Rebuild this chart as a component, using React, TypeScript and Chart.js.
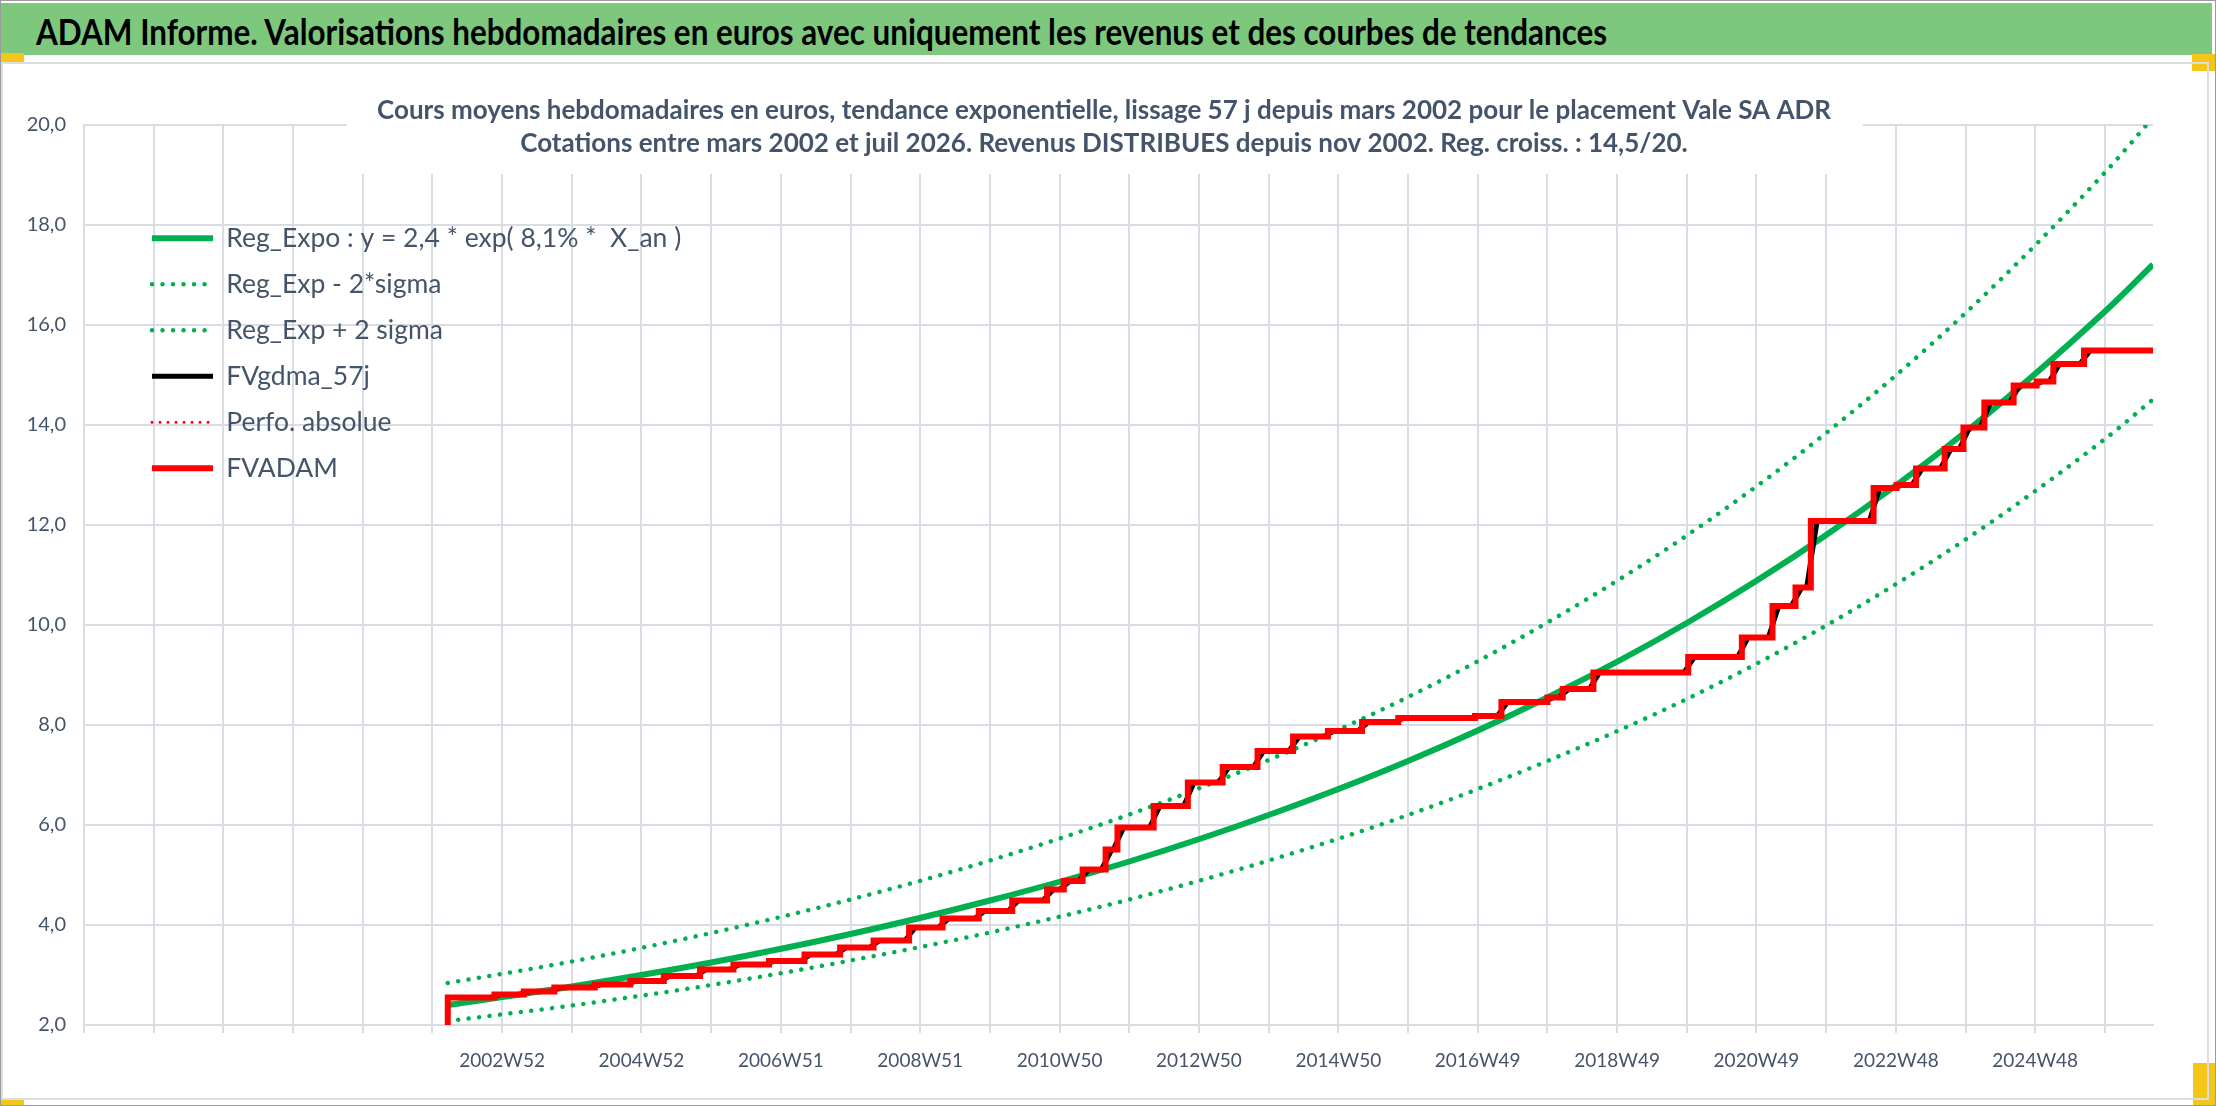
import { useEffect, useRef } from "react";
import { Chart, registerables } from "chart.js";

Chart.register(...registerables);

const FONT = "Lato, 'Open Sans', sans-serif";
const TEXT = "#44546A";
const GRID = "#D9DDE3";
const GREEN = "#00B050";
const RED = "#FF0000";

const headerText =
  "ADAM Informe. Valorisations hebdomadaires en euros avec uniquement les revenus et des courbes de tendances";
const titleLines = [
  "Cours moyens hebdomadaires en euros, tendance exponentielle, lissage 57 j depuis mars 2002 pour le placement Vale SA ADR",
  "Cotations entre mars 2002 et juil 2026. Revenus DISTRIBUES depuis nov 2002. Reg. croiss. : 14,5/20.",
];

// x axis: one grid line every 52 weeks, 1997 = left edge of the plot
const xMin = 1997;
const xMax = 2026.69;
const labelYears = [2003, 2005, 2007, 2009, 2011, 2013, 2015, 2017, 2019, 2021, 2023, 2025];
const weekLabels = [
  "2002W52", "2004W52", "2006W51", "2008W51", "2010W50", "2012W50",
  "2014W50", "2016W49", "2018W49", "2020W49", "2022W48", "2024W48",
];

// trend curves
const trendYears = [2002.22, 2004, 2006, 2008, 2010, 2012, 2014, 2016, 2018, 2020, 2022, 2024, 2026, 2026.69];
const regExpo = [2.4, 2.77, 3.25, 3.82, 4.49, 5.27, 6.2, 7.28, 8.55, 10.04, 11.8, 13.86, 16.27, 17.21];
const regLow = [2.08, 2.39, 2.8, 3.29, 3.85, 4.51, 5.29, 6.2, 7.28, 8.52, 9.99, 11.71, 13.72, 14.51];
const regHigh = [2.84, 3.27, 3.84, 4.51, 5.29, 6.21, 7.3, 8.56, 10.05, 11.79, 13.84, 16.24, 19.05, 20.15];

// FVADAM: new value at each step
const stepYears = [
  2002.22, 2002.22, 2002.89, 2003.31, 2003.75, 2004.33, 2004.84, 2005.32, 2005.84, 2006.32,
  2006.83, 2007.34, 2007.85, 2008.33, 2008.84, 2009.32, 2009.84, 2010.32, 2010.82, 2011.06,
  2011.33, 2011.66, 2011.83, 2012.35, 2012.84, 2013.34, 2013.84, 2014.35, 2014.85, 2015.34,
  2015.86, 2016.96, 2017.34, 2018.0, 2018.22, 2018.66, 2020.02, 2020.79, 2021.23, 2021.56,
  2021.78, 2022.68, 2023.01, 2023.29, 2023.7, 2023.97, 2024.27, 2024.69, 2025.02, 2025.26,
  2025.7, 2026.69,
];
const stepValues = [
  2.0, 2.55, 2.61, 2.67, 2.75, 2.81, 2.88, 2.98, 3.11, 3.21,
  3.28, 3.41, 3.55, 3.69, 3.95, 4.13, 4.28, 4.49, 4.71, 4.88,
  5.11, 5.51, 5.95, 6.38, 6.85, 7.16, 7.48, 7.77, 7.88, 8.06,
  8.14, 8.18, 8.46, 8.55, 8.72, 9.05, 9.36, 9.75, 10.38, 10.75,
  12.08, 12.74, 12.8, 13.13, 13.52, 13.95, 14.45, 14.79, 14.87, 15.22,
  15.49, 15.49,
];

const legendLabels = [
  "Reg_Expo : y = 2,4 * exp( 8,1% *  X_an )",
  "Reg_Exp - 2*sigma",
  "Reg_Exp + 2 sigma",
  "FVgdma_57j",
  "Perfo. absolue",
  "FVADAM",
];

// screen geometry, px inside the canvas
const CANVAS_W = 2204;
const CANVAS_H = 1034;
const AREA = { left: 81, right: 2150, top: 61, bottom: 961 };
const TITLE_BOX = { x0: 344, x1: 1860, bottom: 110, cx: 1101, base: [55, 88] };
const LEGEND = { left: 149, top: 161, size: 26.5, gap: 19.5, sample: 61 };

const pts = (xs: number[], ys: number[]) => xs.map((x, i) => ({ x, y: ys[i] }));

// the 57 day average only shows as short ramps around each step
const gdmaPts = (() => {
  const out = [{ x: stepYears[1], y: stepValues[1] }];
  for (let i = 2; i < stepYears.length - 1; i++) {
    out.push({ x: stepYears[i] - 0.06, y: stepValues[i - 1] });
    out.push({ x: stepYears[i] + 0.09, y: stepValues[i] });
  }
  out.push({ x: xMax, y: stepValues[stepValues.length - 1] });
  return out;
})();

// title sits on a white box over the top of the plot, like the excel one
const titlePlugin = {
  id: "boxTitle",
  beforeDatasetsDraw(chart: Chart) {
    const ctx = chart.ctx;
    ctx.save();
    ctx.fillStyle = "#ffffff";
    ctx.fillRect(TITLE_BOX.x0, 0, TITLE_BOX.x1 - TITLE_BOX.x0, TITLE_BOX.bottom);
    ctx.fillStyle = TEXT;
    ctx.font = `bold 26px ${FONT}`;
    ctx.textAlign = "center";
    ctx.textBaseline = "alphabetic";
    titleLines.forEach((t, i) => ctx.fillText(t, TITLE_BOX.cx, TITLE_BOX.base[i]));
    ctx.restore();
  },
};

// move the in-plot legend to where excel put it
const legendPlugin = {
  id: "legendPlace",
  afterLayout(chart: Chart) {
    const lg: any = chart.legend;
    if (!lg) return;
    lg.left = LEGEND.left - LEGEND.gap;
    lg.top = LEGEND.top - LEGEND.gap;
  },
};

const App = () => {
  const chartRef = useRef<HTMLCanvasElement | null>(null);

  useEffect(() => {
    const datasets: any[] = [
      {
        label: legendLabels[0],
        data: pts(trendYears, regExpo),
        borderColor: GREEN,
        backgroundColor: GREEN,
        borderWidth: 6,
        cubicInterpolationMode: "monotone",
        order: 5,
      },
      {
        label: legendLabels[1],
        data: pts(trendYears, regLow),
        borderColor: GREEN,
        backgroundColor: GREEN,
        borderWidth: 4.5,
        borderDash: [0.01, 10.5],
        borderCapStyle: "round",
        cubicInterpolationMode: "monotone",
        order: 4,
      },
      {
        label: legendLabels[2],
        data: pts(trendYears, regHigh),
        borderColor: GREEN,
        backgroundColor: GREEN,
        borderWidth: 4.5,
        borderDash: [0.01, 10.5],
        borderCapStyle: "round",
        cubicInterpolationMode: "monotone",
        order: 3,
      },
      {
        label: legendLabels[3],
        data: gdmaPts,
        borderColor: "#000000",
        backgroundColor: "#000000",
        borderWidth: 5,
        order: 2,
      },
      {
        label: legendLabels[4],
        data: [],
        borderColor: RED,
        backgroundColor: RED,
        borderWidth: 3,
        borderDash: [0.01, 8],
        borderCapStyle: "round",
        order: 1,
      },
      {
        label: legendLabels[5],
        data: pts(stepYears, stepValues),
        borderColor: RED,
        backgroundColor: RED,
        borderWidth: 6,
        stepped: "before",
        order: 0,
      },
    ];

    const chart = new Chart(chartRef.current!, {
      type: "line",
      data: { datasets },
      options: {
        animation: false,
        responsive: false,
        devicePixelRatio: 1,
        parsing: false,
        normalized: true,
        elements: { point: { radius: 0, hoverRadius: 0 }, line: { tension: 0 } },
        layout: {
          padding: { top: AREA.top, right: CANVAS_W - AREA.right, bottom: 0, left: 0 },
        },
        scales: {
          x: {
            type: "linear",
            min: xMin,
            max: xMax,
            afterFit: (s: any) => { s.height = CANVAS_H - AREA.bottom; },
            grid: { color: GRID, lineWidth: 2, drawTicks: true, tickLength: 8 },
            border: { color: GRID, width: 2 },
            ticks: {
              stepSize: 1,
              includeBounds: false,
              autoSkip: false,
              maxRotation: 0,
              minRotation: 0,
              padding: 16,
              color: TEXT,
              font: { family: FONT, size: 19 },
              callback: (v: any) => {
                const i = labelYears.indexOf(Number(v));
                return i >= 0 ? weekLabels[i] : "";
              },
            },
          },
          y: {
            min: 2,
            max: 20,
            afterFit: (s: any) => { s.width = AREA.left; },
            grid: { color: GRID, lineWidth: 2, drawTicks: false },
            border: { color: GRID, width: 2 },
            ticks: {
              stepSize: 2,
              padding: 18,
              color: TEXT,
              font: { family: FONT, size: 20 },
              callback: (v: any) => Number(v).toFixed(1).replace(".", ","),
            },
          },
        },
        plugins: {
          title: { display: false },
          tooltip: { enabled: false },
          legend: {
            display: true,
            position: "chartArea",
            align: "start",
            labels: {
              usePointStyle: true,
              pointStyle: "line",
              pointStyleWidth: LEGEND.sample,
              padding: LEGEND.gap,
              color: TEXT,
              font: { family: FONT, size: LEGEND.size },
              generateLabels: (c: Chart) =>
                c.data.datasets.map((ds: any, i: number) => ({
                  text: ds.label,
                  datasetIndex: i,
                  fillStyle: ds.borderColor,
                  strokeStyle: ds.borderColor,
                  lineWidth: ds.borderWidth,
                  lineDash: ds.borderDash || [],
                  lineCap: ds.borderCapStyle || "butt",
                  pointStyle: "line",
                  fontColor: TEXT,
                  hidden: false,
                })),
            },
          },
        },
      } as any,
      plugins: [titlePlugin, legendPlugin],
    });

    return () => chart.destroy();
  }, []);

  return (
    <div style={{ position: "absolute", left: 0, top: 0, width: 2216, height: 1106, background: "#fff", overflow: "hidden", boxSizing: "border-box", border: "1px solid #9A9A9A" }}>
      <div style={{ position: "absolute", left: 0, top: 2, width: 2211, height: 52, background: "#7DC87D" }}>
        <span style={{ position: "absolute", left: 35, top: 11, font: `bold 35.5px ${FONT}`, lineHeight: 1, color: "#000", whiteSpace: "nowrap", transform: "scaleX(0.885)", transformOrigin: "left top" }}>
          {headerText}
        </span>
      </div>
      <div style={{ position: "absolute", left: 0, top: 52, width: 23, height: 9, background: "#F5C518" }} />
      <div style={{ position: "absolute", left: 2191, top: 53, width: 25, height: 17, background: "#F5C518" }} />
      <div style={{ position: "absolute", left: 2192, top: 1062, width: 24, height: 44, background: "#F5C518" }} />
      <div style={{ position: "absolute", left: 0, top: 1099, width: 23, height: 7, background: "#F5C518" }} />
      <div style={{ position: "absolute", left: 0, top: 61, width: 2208, height: 1038, boxSizing: "border-box", border: "2px solid #DADDE1" }}>
        <canvas ref={chartRef} width={CANVAS_W} height={CANVAS_H} style={{ width: CANVAS_W, height: CANVAS_H, display: "block" }} />
      </div>
    </div>
  );
};

export default App;
